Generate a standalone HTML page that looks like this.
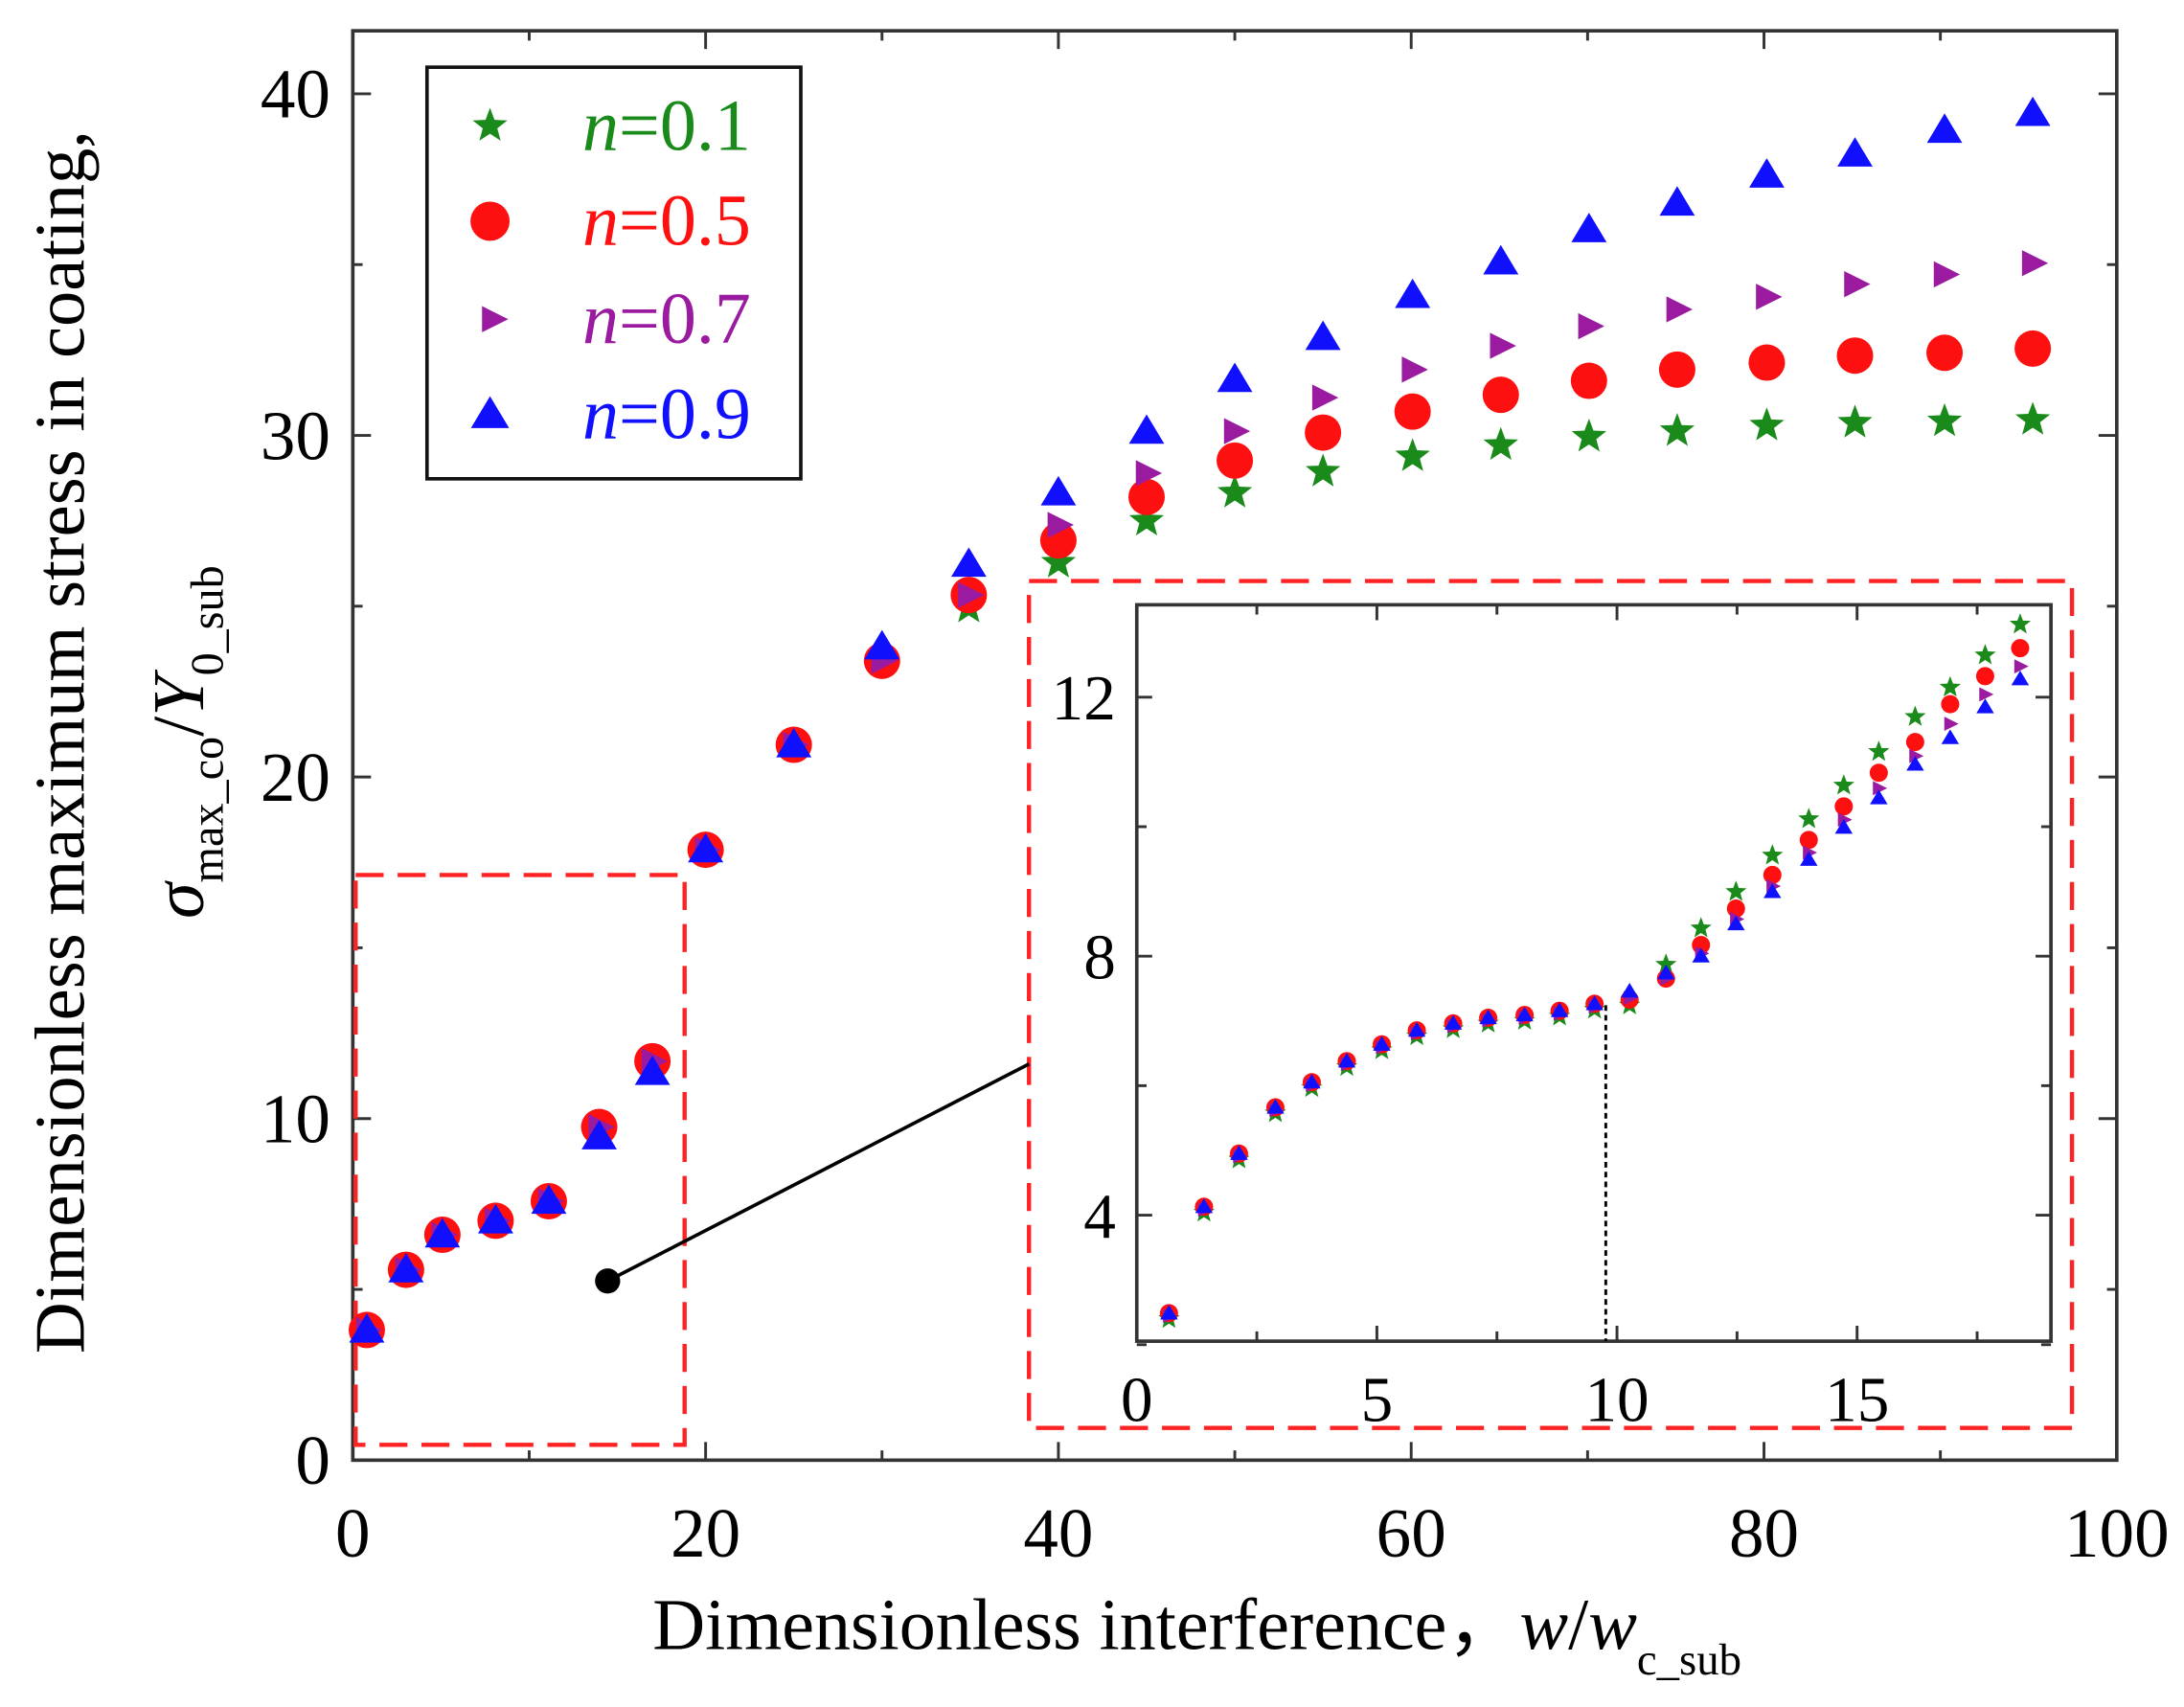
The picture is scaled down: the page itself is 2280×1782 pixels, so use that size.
<!DOCTYPE html>
<html><head><meta charset="utf-8"><style>
html,body{margin:0;padding:0;background:#fff}
svg{display:block}
text{font-family:"Liberation Serif",serif}
</style></head><body>
<svg id="s" width="2280" height="1782" viewBox="0 0 1560 1219.3" xmlns="http://www.w3.org/2000/svg">
<rect width="1560" height="1220" fill="#fff"/>
<g id="g"></g>
</svg>
<script>
const g=document.getElementById('g');let h='';
const X=v=>252+v*12.6, Y=v=>1043-v*24.4;
h+='<rect x="252" y="22" width="1260" height="1021" fill="none" stroke="#333" stroke-width="2.5"/>';
for(let v=0;v<=100;v+=10){const x=X(v),L=v%20?7:13;h+=`<line x1="${x}" y1="1043" x2="${x}" y2="${1043-L}" stroke="#333" stroke-width="2"/><line x1="${x}" y1="22" x2="${x}" y2="${22+L}" stroke="#333" stroke-width="2"/>`;if(v%20==0)h+=`<text x="${x}" y="1112" font-size="50" text-anchor="middle">${v}</text>`;}
for(let v=0;v<=41;v+=5){const y=Y(v),L=v%10?7:13;h+=`<line x1="252" y1="${y}" x2="${252+L}" y2="${y}" stroke="#333" stroke-width="2"/><line x1="1512" y1="${y}" x2="${1512-L}" y2="${y}" stroke="#333" stroke-width="2"/>`;if(v%10==0)h+=`<text x="236" y="${y+17}" font-size="50" text-anchor="end">${v}</text>`;}
h+='<text x="855" y="1178" font-size="52" text-anchor="middle">Dimensionless interference，<tspan font-style="italic">w</tspan>/<tspan font-style="italic">w</tspan><tspan font-size="32" dy="18">c_sub</tspan></text>';
h+='<text transform="translate(60,530) rotate(-90)" font-size="51" text-anchor="middle">Dimensionless maximum stress in coating,</text>';
h+='<text transform="translate(145,530) rotate(-90)" font-size="52" text-anchor="middle"><tspan font-style="italic">σ</tspan><tspan font-size="33" dy="14">max_co</tspan><tspan dy="-14">/</tspan><tspan font-style="italic">Y</tspan><tspan font-size="33" dy="14">0_sub</tspan></text>';
function star(x,y,r,c){let p='';for(let i=0;i<10;i++){const a=-Math.PI/2+i*Math.PI/5,rr=i%2?r*0.42:r;p+=(x+rr*Math.cos(a)).toFixed(1)+','+(y+rr*Math.sin(a)).toFixed(1)+' ';}return `<polygon points="${p}" fill="${c}"/>`;}
const cir=(x,y,r,c)=>`<circle cx="${x}" cy="${y}" r="${r}" fill="${c}"/>`;
const tri=(x,y,r,c)=>`<polygon points="${x},${y-r} ${x+r*1.05},${y+r*0.75} ${x-r*1.05},${y+r*0.75}" fill="${c}"/>`;
const rtri=(x,y,r,c)=>`<polygon points="${x+r},${y} ${x-r*0.7},${y-r*0.85} ${x-r*0.7},${y+r*0.85}" fill="${c}"/>`;
const G='#1a8a1a',R='#ff1010',P='#9a1aa0',B='#1010ff';
h+='<rect x="254" y="625" width="235" height="407" fill="none" stroke="#f22" stroke-width="3" stroke-dasharray="20,10"/>';
h+='<rect x="735" y="415" width="745" height="605" fill="none" stroke="#f22" stroke-width="3" stroke-dasharray="20,10"/>';
h+='<line x1="434" y1="915" x2="735" y2="760" stroke="#000" stroke-width="2.5"/><circle cx="434" cy="915" r="9" fill="#000"/>';
const mx=[262,290,316,354,392,428,466,504,567,630,692];
const my=[950,907,882,872,858,805,758,607,532,472,425];
mx.forEach((x,i)=>{let y=my[i];let by=y,gy=y;if(i==6)by=766;if(i==9)by=462;if(i==10){by=403;gy=434;}if(i==5)by=812;
h+=star(x,gy,13,G)+cir(x,y,13,R)+rtri(x,y,11,P)+tri(x,by,12,B);});
const mx2=[756,819,882,945,1009,1072,1135,1198,1262,1325,1389,1452];
const d=[[402,386,375,352],[372,355,338,308],[352,329,308,271],[337,309,284,241],[326,294,264,211],[318,282,247,187],[312,272,233,164],[308,264,221,145],[304,259,212,125],[302,254,203,110],[301,252,196,93],[300,249,188,81]];
mx2.forEach((x,i)=>{const [a,b,c,e]=d[i];h+=star(x,a,13,G)+cir(x,b,13,R)+rtri(x,c,11,P)+tri(x,e,12,B);});
h+='<rect x="812" y="432" width="653" height="526" fill="#fff" stroke="#333" stroke-width="2.5"/>';
const IX=v=>812+v*34.3, IY=v=>868-(v-4)*46.25;
for(let v=0;v<=19;v+=2.5){const x=IX(v),L=v%5?7:11;h+=`<line x1="${x}" y1="958" x2="${x}" y2="${958-L}" stroke="#333" stroke-width="2"/><line x1="${x}" y1="432" x2="${x}" y2="${432+L}" stroke="#333" stroke-width="2"/>`;if(v%5==0)h+=`<text x="${x}" y="1015" font-size="46" text-anchor="middle">${v}</text>`;}
for(let v=2;v<=13;v+=2){const y=IY(v),L=v%4?7:11;h+=`<line x1="812" y1="${y}" x2="${812+L}" y2="${y}" stroke="#333" stroke-width="2"/><line x1="1465" y1="${y}" x2="${1465-L}" y2="${y}" stroke="#333" stroke-width="2"/>`;if(v%4==0)h+=`<text x="797" y="${y+16}" font-size="46" text-anchor="end">${v}</text>`;}
h+='<line x1="1147" y1="718" x2="1147" y2="958" stroke="#000" stroke-width="2" stroke-dasharray="4,3"/>';
const ix=[835,860,885,911,937,962,987,1012,1038,1063,1089,1114,1139,1164,1190,1215,1240,1266,1292,1317,1342,1368,1393,1418,1443];
const ir=[938,862,824,791,773,758,746,736,731,727,725,722,717,714,699,675,649,625,600,576,552,530,503,483,463];
const ig={14:689,15:663,16:637,17:611,18:585,19:561,20:537,21:512,22:491,23:468,24:446};
const ib={13:708,14:695,15:683,16:660,17:637,18:614,19:591,20:570,21:546,22:527,23:505,24:485};
ix.forEach((x,i)=>{const r=ir[i],gg=ig[i]??r+4,bb=ib[i]??r,pp=(r+bb)/2+2;
h+=star(x,gg,8,G)+cir(x,r,6.5,R)+rtri(x,pp,6,P)+tri(x,bb,6,B);});
h+='<rect x="305" y="48" width="267" height="294" fill="#fff" stroke="#111" stroke-width="2.5"/>';
const lg=[['0.1',G,90],['0.5',R,158],['0.7',P,228],['0.9',B,296]];
lg.forEach(([t,c,y],i)=>{h+=(i==0?star(350,y,13,G):i==1?cir(350,y,14,R):i==2?rtri(352,y,11,P):tri(350,y,13,B));
h+=`<text x="416" y="${y+17}" font-size="52" fill="${c}"><tspan font-style="italic">n</tspan>=${t}</text>`;});
g.innerHTML=h;
</script>
</body></html>
